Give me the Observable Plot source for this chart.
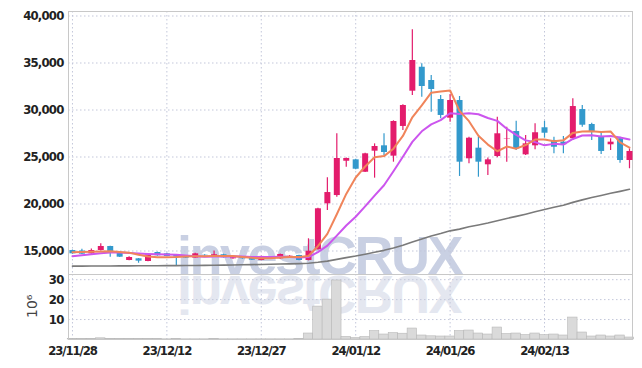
<!DOCTYPE html>
<html><head><meta charset="utf-8">
<script src="https://cdn.jsdelivr.net/npm/d3@7"></script>
<script src="https://cdn.jsdelivr.net/npm/@observablehq/plot@0.6"></script>
<style>
body{margin:0;background:#fff;}
#wrap{position:relative;width:642px;height:368px;overflow:hidden;background:#fff;}
#wm{position:absolute;left:0;top:0;}
#charts{position:absolute;left:0;top:0;}
#charts svg{display:block;overflow:visible;}
</style></head><body>
<div id="wrap"><svg id="wm" width="642" height="368"></svg><div id="charts"></div></div>
<script>
const dates = ["23/11/28","23/11/29","23/11/30","23/12/01","23/12/04","23/12/05","23/12/06","23/12/07","23/12/08","23/12/11",
"23/12/12","23/12/13","23/12/14","23/12/15","23/12/18","23/12/19","23/12/20","23/12/21","23/12/22","23/12/26",
"23/12/27","23/12/28","24/01/02","24/01/03","24/01/04","24/01/05","24/01/08","24/01/09","24/01/10","24/01/11",
"24/01/12","24/01/15","24/01/16","24/01/17","24/01/18","24/01/19","24/01/22","24/01/23","24/01/24","24/01/25",
"24/01/26","24/01/29","24/01/30","24/01/31","24/02/01","24/02/02","24/02/05","24/02/06","24/02/07","24/02/08",
"24/02/13","24/02/14","24/02/15","24/02/16","24/02/19","24/02/20","24/02/21","24/02/22","24/02/23","24/02/26"];
const open = [15050,15000,14700,15050,15480,14840,13990,14170,13880,14840,14700,14520,14490,14240,14550,14340,14600,14170,14340,14240,
13990,14320,14170,14340,14520,13990,15130,20020,20900,24550,24700,23380,25620,26190,25090,28250,32000,34550,33140,31120,
29130,31010,24810,25940,24170,25050,26900,27710,25230,26190,28110,26760,26580,26940,30050,28460,27110,26300,26940,24630];
const high = [15100,15190,15200,15770,15500,14880,14400,14200,14650,14880,14750,14560,14520,14750,14600,14990,14650,14320,14380,14280,
14450,14380,14680,14500,14560,16300,19550,22790,27470,24900,24750,25400,26400,27470,28850,30550,38530,34920,33670,31540,
31650,31440,27100,27110,24900,29230,28170,28810,27290,28530,28810,27110,27180,31190,30480,28600,27640,26940,27110,25870];
const low = [14650,14620,14650,15000,14340,14300,13950,13700,13850,14450,14400,13430,14200,14200,14450,14300,14250,14130,14130,13980,
13950,14250,14130,14300,13950,13950,15100,19310,20720,23920,23650,23350,22750,25160,24450,27820,31540,31360,29770,29060,
28700,22930,24280,22850,23030,24920,24450,25690,25150,25770,27000,25340,25340,26760,28170,26760,25270,25690,24340,23750];
const close = [14700,14660,15050,15480,14950,14340,14310,13920,14600,14490,14420,14350,14240,14700,14500,14600,14280,14280,14170,14020,
14420,14300,14630,14450,13990,14980,19490,21220,24840,24840,23700,25340,26120,25480,28780,30480,35270,32500,32180,29420,
31010,24450,27000,24450,24700,27470,26940,25870,26400,27580,27530,26040,26300,30370,28380,27640,25590,26580,24630,25590];
// volume, millions of shares
const volume = [0.2,0.2,0.3,0.6,0.3,0.2,0.2,0.2,0.2,0.2,0.1,0.2,0.1,0.1,0.1,0.2,0.1,0.1,0.1,0.1,
0.1,0.1,0.1,0.1,0.2,3.0,16.5,20.0,29.6,1.3,0.7,1.2,4.2,2.5,3.2,2.9,5.5,2.0,1.6,1.5,
1.5,4.2,4.5,3.0,2.5,6.0,2.7,3.0,2.2,3.0,2.2,2.5,2.0,11.0,3.5,1.5,2.0,1.5,2.0,1.0];
const ma5 = [14880,14900,14930,14960,14968,14896,14826,14600,14424,14332,14348,14356,14420,14440,14442,14478,14464,14472,14366,14270,
14234,14238,14308,14364,14358,14470,15508,16826,18904,21074,22818,23988,24968,25096,25884,27240,29226,30502,31842,31970,
32076,29912,28812,27266,26322,25614,26112,25886,26276,26852,26864,26684,26770,27564,27724,27746,27656,27712,26564,26006];
const ma10 = [14450,14550,14650,14760,14830,14850,14800,14740,14690,14650,14622,14591,14510,14432,14387,14413,14410,14446,14403,14356,
14356,14351,14390,14365,14314,14352,14873,15567,16634,17716,18644,19748,20897,22000,23479,25029,26607,27735,28469,28927,
29658,29569,29657,29554,29146,28845,28012,27349,26771,26587,26239,26398,26328,26920,27288,27305,27170,27241,27064,26865];
const ma60 = [13390,13395,13400,13405,13410,13415,13420,13425,13430,13435,13440,13445,13450,13460,13470,13480,13495,13510,13530,13550,
13570,13590,13610,13635,13660,13700,13798,13925,14112,14299,14467,14663,14872,15070,15323,15604,15965,16280,16590,16854,
17144,17330,17572,17771,17974,18223,18463,18686,18918,19169,19420,19646,19876,20174,20439,20691,20909,21144,21346,21564];
const priceTicks = [15000,20000,25000,30000,35000,40000];
const volumeTicks = [10,20,30];
const volumeLabel = "10⁶";
const watermark = "investCRUX";
const tickEvery = 10;

const rows = dates.map((d, i) => ({i, date: d, open: open[i], high: high[i], low: low[i], close: close[i],
  vol: volume[i], ma5: ma5[i], ma10: ma10[i], ma60: ma60[i]}));
const xTicks = rows.filter(r => r.i % tickEvery === 0).map(r => r.i);
const UP = "#e31c6c", DOWN = "#3399cc";
const font = "'Liberation Sans Narrow','DejaVu Sans Condensed','Liberation Sans',sans-serif";
const gridStyle = {stroke: "#c3c7da", strokeOpacity: 1, strokeDasharray: "1.5,2.5"};
const xDomain = [-0.42, 59.32];
const baseStyle = {background: "transparent", fontFamily: font, fontSize: "13px", fontWeight: "bold", color: "#222", overflow: "visible"};

const price = Plot.plot({
  width: 642, height: 274, marginTop: 11, marginBottom: 0, marginLeft: 68, marginRight: 10,
  style: {...baseStyle, letterSpacing: "-0.8px"},
  x: {domain: xDomain, axis: null},
  y: {domain: [12500, 40480], ticks: priceTicks, tickFormat: d3.format(","), tickSize: 0, tickPadding: 5, label: null},
  marks: [
    Plot.gridX(xTicks, gridStyle),
    Plot.gridY(priceTicks, gridStyle),
    Plot.frame({stroke: "#c8c8c8"}),
    Plot.ruleX(rows, {x: "i", y1: "low", y2: "high", stroke: d => d.close >= d.open ? UP : DOWN, strokeWidth: 1.2}),
    Plot.ruleX(rows, {x: "i", y1: "open", y2: "close", stroke: d => d.close >= d.open ? UP : DOWN, strokeWidth: 6}),
    Plot.line(rows, {x: "i", y: "ma60", stroke: "#7a7a7a", strokeWidth: 1.6}),
    Plot.line(rows, {x: "i", y: "ma10", stroke: "#cc55ee", strokeWidth: 2}),
    Plot.line(rows, {x: "i", y: "ma5", stroke: "#f0845a", strokeWidth: 2})
  ]
});

const vol = Plot.plot({
  width: 642, height: 94, marginTop: 0, marginBottom: 29, marginLeft: 68, marginRight: 10,
  style: {...baseStyle, letterSpacing: "-1.1px"},
  x: {domain: xDomain, ticks: xTicks, tickFormat: i => dates[i], tickSize: 0, tickPadding: 6, label: null},
  y: {domain: [0, 32.6], ticks: volumeTicks, tickSize: 0, tickPadding: 5, label: null},
  marks: [
    Plot.gridX(xTicks, gridStyle),
    Plot.gridY(volumeTicks, gridStyle),
    Plot.rectY(rows, {x1: d => d.i - 0.5, x2: d => d.i + 0.5, y: "vol", fill: "#dadada", stroke: "#b8b8b8", strokeWidth: 0.6}),
    Plot.frame({stroke: "#c8c8c8"}),
    Plot.text([volumeLabel], {frameAnchor: "left", text: d => d, dx: -36, dy: 11, rotate: -90,
      fontFamily: "'DejaVu Sans',sans-serif", fontWeight: "normal", fontSize: 14, fill: "#444"})
  ]
});

document.getElementById("charts").append(price, vol);
// the volume y tick labels keep the price axis spacing
d3.select(vol).selectAll("[aria-label='y-axis tick label'] text").attr("letter-spacing", "-0.8px");
d3.select(vol).selectAll("text").filter(function() { return this.textContent === volumeLabel; }).attr("letter-spacing", "0px");

// watermark behind the charts
const wm = d3.select("#wm");
const wmStyle = s => s.attr("font-family", "'Liberation Sans',Arial,sans-serif").attr("font-weight", "bold")
  .attr("font-size", 54).attr("letter-spacing", "-2.5px");
wm.append("g").attr("transform", "translate(0,550) scale(1,-1)")
  .append("text").attr("x", 177).attr("y", 274).text(watermark).call(wmStyle).attr("fill", "#e4e7f0");
wm.append("text").attr("x", 177).attr("y", 274).text(watermark).call(wmStyle).attr("fill", "#c9d0e3");
</script>
</body></html>
